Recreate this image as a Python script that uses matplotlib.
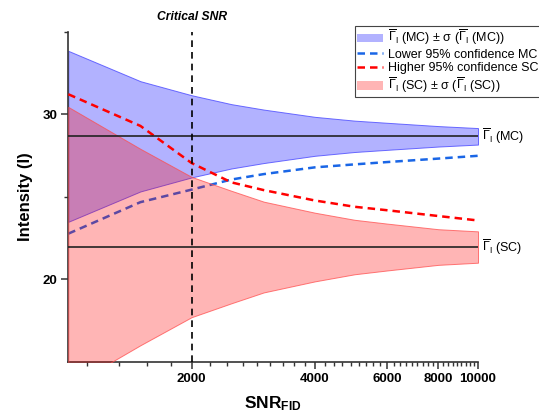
import matplotlib
matplotlib.use("Agg")
import matplotlib.pyplot as plt
from matplotlib.patches import Patch
from matplotlib.lines import Line2D
import numpy as np

# data
snr = [1000, 1500, 2000, 2500, 3000, 4000, 5000, 6000, 8000, 10000]
mc_mean = 28.66
sc_mean = 21.95
mc_sigma = [5.18, 3.34, 2.49, 1.95, 1.62, 1.18, 0.95, 0.82, 0.62, 0.50]
sc_sigma = [8.49, 5.95, 4.25, 3.41, 2.75, 2.08, 1.65, 1.42, 1.08, 0.95]
lower95_mc = [22.76, 24.67, 25.43, 26.04, 26.37, 26.78, 26.96, 27.10, 27.31, 27.48]
higher95_sc = [31.21, 29.29, 27.04, 25.87, 25.40, 24.77, 24.39, 24.18, 23.83, 23.56]
critical_snr = 2000
x_major = [2000, 4000, 6000, 8000, 10000]

plt.rcParams['font.family'] = ['Liberation Sans', 'DejaVu Sans']
plt.rcParams['mathtext.fontset'] = 'custom'
plt.rcParams['mathtext.rm'] = 'Liberation Sans'
plt.rcParams['mathtext.it'] = 'Liberation Sans:italic'
plt.rcParams['mathtext.bf'] = 'Liberation Sans:bold'

fig = plt.figure(figsize=(5.39, 4.15), dpi=100)
ax = fig.add_axes([0.1267, 0.1284, 0.7601, 0.7952])

x = np.array(snr)
mcs = np.array(mc_sigma)
scs = np.array(sc_sigma)

blue_face = (0.0, 0.0, 1.0, 0.30)
blue_edge = (0.25, 0.25, 1.0, 0.75)
red_face = (1.0, 0.0, 0.0, 0.29)
red_edge = (1.0, 0.3, 0.3, 0.75)
blue_dash = '#1a66e6'

ax.fill_between(x, mc_mean - mcs, mc_mean + mcs, facecolor=blue_face,
                edgecolor=blue_edge, linewidth=0.7, zorder=1)
ax.plot(x, lower95_mc, color=blue_dash, lw=1.8, dashes=(3, 2), zorder=2)
ax.fill_between(x, sc_mean - scs, sc_mean + scs, facecolor=red_face,
                edgecolor=red_edge, linewidth=0.7, zorder=3)
ax.plot(x, higher95_sc, color='red', lw=1.8, dashes=(3, 2), zorder=4)

ax.hlines([mc_mean, sc_mean], snr[0], snr[-1], color='#222222', lw=1.2, zorder=5)
ax.axvline(critical_snr, color='black', lw=1.2, dashes=(4, 3), zorder=5)

ax.set_xscale('log')
ax.set_xlim(1000, 10000)
ax.set_ylim(15, 35)
ax.set_xticks(x_major)
ax.set_xticklabels([str(v) for v in x_major])
minors = [2000 - k * 2000 / 9 for k in range(1, 5)]
for a, b in zip(x_major[:-1], x_major[1:]):
    minors += [a + k * (b - a) / 9 for k in range(1, 9)]
ax.set_xticks(minors, minor=True)
ax.set_xticklabels([], minor=True)
ax.set_yticks([20, 30])
ax.set_yticks([25, 35], minor=True)

for s in ['top', 'right']:
    ax.spines[s].set_visible(False)
for s in ['left', 'bottom']:
    ax.spines[s].set_linewidth(1.2)
    ax.spines[s].set_color('#333333')
ax.tick_params(which='major', direction='out', length=5, width=1.1, color='#333333',
               labelsize=9.5, pad=3)
ax.tick_params(which='minor', direction='out', length=2.8, width=1.0, color='#333333')
for lab in ax.get_xticklabels() + ax.get_yticklabels():
    lab.set_fontweight('bold')

ax.set_ylabel('Intensity (I)', fontsize=12, fontweight='bold', labelpad=7)
ax.set_xlabel(r'$\mathbf{SNR}_{\mathbf{FID}}$', fontsize=12.5, labelpad=7)

ax.text(critical_snr, 1.025, 'Critical SNR', transform=ax.get_xaxis_transform(),
        ha='center', va='bottom', fontsize=8.7, fontweight='bold', style='italic')

g = r'$\overline{\Gamma}_\mathrm{I}$'
ax.text(1.01, mc_mean, g + ' (MC)', transform=ax.get_yaxis_transform(),
        ha='left', va='center', fontsize=9)
ax.text(1.01, sc_mean, g + ' (SC)', transform=ax.get_yaxis_transform(),
        ha='left', va='center', fontsize=9)

handles = [
    Patch(facecolor=blue_face, edgecolor='none'),
    Line2D([], [], color=blue_dash, lw=1.8, dashes=(3, 2)),
    Line2D([], [], color='red', lw=1.8, dashes=(3, 2)),
    Patch(facecolor=red_face, edgecolor='none'),
]
labels = [
    g + ' (MC) ± σ (' + g + ' (MC))',
    'Lower 95% confidence MC',
    'Higher 95% confidence SC',
    g + ' (SC) ± σ (' + g + ' (SC))',
]
leg = fig.legend(handles, labels, loc='upper left', bbox_to_anchor=(0.658, 0.938),
                 bbox_transform=fig.transFigure, fontsize=9, frameon=True,
                 fancybox=False, edgecolor='#444444', framealpha=1,
                 handlelength=2.1, handletextpad=0.35, labelspacing=0.12,
                 borderpad=0.2, borderaxespad=0)
leg.get_frame().set_linewidth(0.8)

fig.savefig('out.png', dpi=100)
